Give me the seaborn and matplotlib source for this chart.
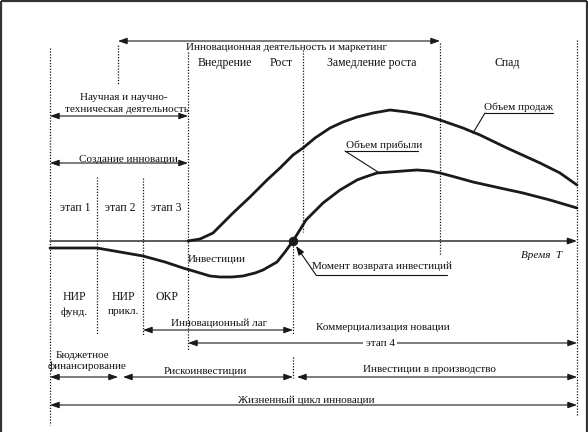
import matplotlib
matplotlib.use("Agg")
import matplotlib.pyplot as plt
import seaborn as sns
import pandas as pd

# --- curve data: time (horizontal position) and level relative to the time axis ---
sales_t = [188, 200, 213, 233, 250, 267, 280, 293, 303, 315, 330, 343, 357, 373,
           390, 407, 423, 440, 463, 480, 507, 540, 560, 577]
sales_v = [0, 2, 8, 28, 44, 61, 73, 86, 93, 103, 113, 119, 124, 128,
           131, 129, 126, 121, 113, 106, 93, 78, 68, 56]

invest_t = [50, 77, 97, 120, 143, 165, 183, 190, 200, 210, 220, 232, 243, 255,
            263, 270, 277, 285, 293]
invest_v = [-7, -7, -7, -11, -15, -21, -27, -29, -32, -35, -36, -36, -35, -32,
            -29, -25, -21, -11, 0]

profit_t = [293, 306, 323, 340, 357, 365, 377, 390, 403, 417, 430, 440, 455, 473,
            500, 523, 550, 577]
profit_v = [0, 21, 38, 51, 61, 64, 68, 69, 70, 71, 70, 68, 64, 59,
            53, 48, 41, 33]

payback_t = [293]
payback_v = [0]

BASE = 241  # vertical position of the time axis on the canvas


def Y(py):
    return BASE - py


sns.set_theme(style="white")
plt.rcParams["font.family"] = ["Liberation Serif", "DejaVu Serif"]
FS = 8

fig = plt.figure(figsize=(5.88, 4.32), dpi=100)
ax = fig.add_axes([0, 0, 1, 1])
ax.set_xlim(0, 588)
ax.set_ylim(Y(432), Y(0))
ax.axis("off")

# frame
for xs, ys in [([1, 1], [Y(432), Y(1)]), ([1, 587], [Y(1), Y(1)]),
               ([587, 587], [Y(1), Y(432)])]:
    ax.plot(xs, ys, color="#333333", lw=1.6, solid_capstyle="butt")

# curves
curves = pd.concat([
    pd.DataFrame({"t": sales_t, "v": sales_v, "s": "sales"}),
    pd.DataFrame({"t": invest_t, "v": invest_v, "s": "invest"}),
    pd.DataFrame({"t": profit_t, "v": profit_v, "s": "profit"}),
])
for name, grp in curves.groupby("s"):
    sns.lineplot(data=grp, x="t", y="v", ax=ax, color="#1a1a1a", lw=2.0,
                 estimator=None, sort=False, legend=False,
                 solid_joinstyle="round", solid_capstyle="round")
sns.scatterplot(x=payback_t, y=payback_v, ax=ax, color="#1a1a1a", s=40,
                edgecolor="#1a1a1a", zorder=5, legend=False)
ax.set_xlabel("")
ax.set_ylabel("")
ax.set_xlim(0, 588)
ax.set_ylim(Y(432), Y(0))

# dotted verticals
dots = (0, (1, 1.3))
for x, y0, y1 in [(50, 48, 425), (118, 45, 85), (188, 52, 350), (97, 177, 335),
                  (143, 178, 335), (303, 50, 232), (293, 243, 335), (293, 357, 378),
                  (440, 43, 255), (577, 40, 415)]:
    ax.plot([x, x], [Y(y0), Y(y1)], color="#111111", lw=0.9, linestyle=dots)


def span(x0, x1, py, style="<|-|>", lw=0.8):
    ax.annotate("", xy=(x1, Y(py)), xytext=(x0, Y(py)),
                arrowprops=dict(arrowstyle=style + ",head_length=0.45,head_width=0.16",
                                lw=lw, color="#1a1a1a", shrinkA=0, shrinkB=0))


# time axis
span(50, 577, 241, style="-|>", lw=1.0)

# horizontal spans
span(118, 440, 41)
span(50, 188, 116)
span(50, 188, 163)
span(143, 293, 330)
span(188, 577, 343)
span(50, 118, 377)
span(123, 293, 377)
span(297, 577, 377)
span(50, 577, 405)


def txt(x, py, s, size=FS, **kw):
    kw.setdefault("ha", "center")
    ax.text(x, Y(py), s, fontsize=size, va="center", color="#111111", **kw)


txt(287, 47, "Инновационная деятельность и маркетинг")
txt(225, 63, "Внедрение", size=8.5)
txt(281, 63, "Рост", size=8.5)
txt(372, 63, "Замедление роста", size=8.5)
txt(507, 63, "Спад", size=8.5)
txt(124, 97, "Научная и научно-")
txt(127, 110, "техническая деятельность")
txt(128, 159, "Создание инновации")
txt(75, 208, "этап 1", size=8.5)
txt(120, 208, "этап 2", size=8.5)
txt(166, 208, "этап 3", size=8.5)
txt(217, 259, "Инвестиции")
txt(542, 255, "Время  Т", style="italic")
txt(74, 297, "НИР", size=8.5)
txt(74, 312, "фунд.")
txt(123, 297, "НИР", size=8.5)
txt(123, 312, "прикл.")
txt(167, 297, "ОКР", size=8.5)
txt(219, 323, "Инновационный лаг")
txt(383, 328, "Коммерциализация новации")
ax.text(380, Y(343), "этап 4", fontsize=FS, ha="center", va="center", color="#111111",
        bbox=dict(facecolor="white", edgecolor="none", pad=1.5))
txt(83, 355, "Бюджетное")
txt(87, 366, "финансирование")
txt(205, 372, "Рискоинвестиции")
txt(429, 370, "Инвестиции в производство")
txt(306, 400, "Жизненный цикл инновации")

# callouts
txt(518, 107, "Объем продаж")
ax.plot([485, 553], [Y(113), Y(113)], color="#111111", lw=0.8)
ax.plot([485, 473], [Y(113), Y(133)], color="#111111", lw=0.8)

txt(384, 145, "Объем прибыли")
ax.plot([345, 418], [Y(151), Y(151)], color="#111111", lw=0.8)
ax.plot([345, 378], [Y(151), Y(172)], color="#111111", lw=0.8)

txt(382, 266, "Момент возврата инвестиций")
ax.plot([316, 447], [Y(275), Y(275)], color="#111111", lw=0.8)
ax.annotate("", xy=(296, Y(246)), xytext=(316, Y(275)),
            arrowprops=dict(arrowstyle="-|>,head_length=0.45,head_width=0.16",
                            lw=0.8, color="#111111", shrinkA=0, shrinkB=0))

fig.savefig("out.png", dpi=100, facecolor="white")
